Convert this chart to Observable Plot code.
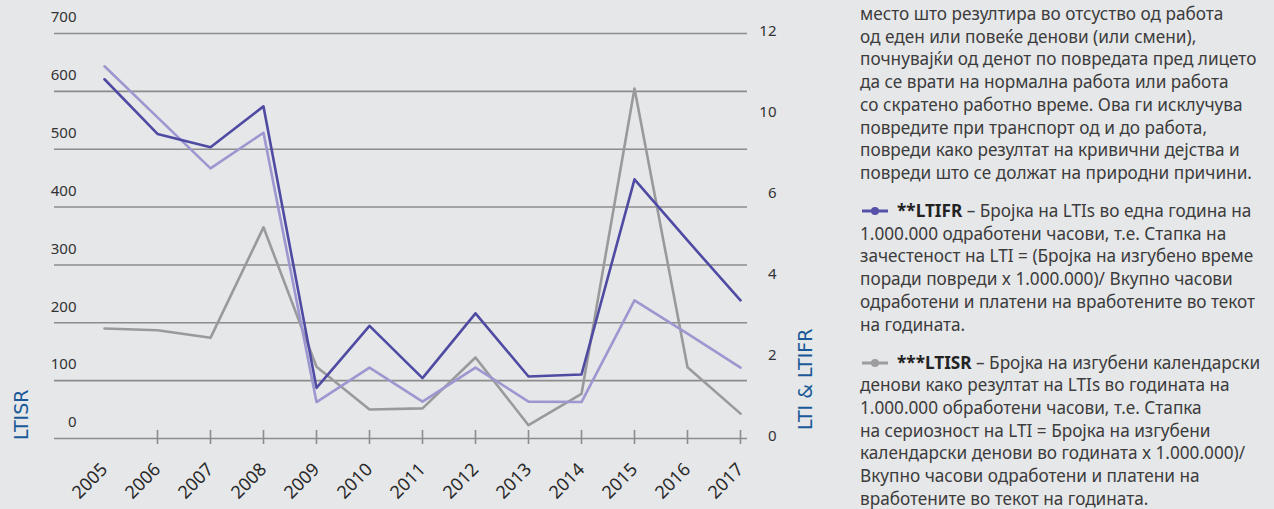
<!DOCTYPE html>
<html>
<head>
<meta charset="utf-8">
<script src="https://cdn.jsdelivr.net/npm/d3@7"></script>
<script src="https://cdn.jsdelivr.net/npm/@observablehq/plot@0.6"></script>
<style>
  html, body { margin: 0; padding: 0; background: #e6e7e9; }
  #wrap { position: relative; width: 1274px; height: 509px; overflow: hidden; background: #e6e7e9; }
  #chart { position: absolute; left: 0; top: 0; }
  #notes { position: absolute; left: 860px; top: 3px; font-family: "Noto Sans", sans-serif; font-size: 17.2px;
           line-height: 22.7px; color: #3c3c3c; white-space: nowrap; }
  #notes p { margin: 0 0 15.4px 0; }
  #notes b { color: #222; }
  .mk { display: inline-block; vertical-align: middle; margin: -3px 9px 0 2px; }
  .ttl { position: absolute; font-family: "DejaVu Sans", sans-serif; font-size: 19px; line-height: 19px; color: #1b5a98;
         white-space: nowrap; transform-origin: 0 0; transform: rotate(-90deg); }
</style>
</head>
<body>
<div id="wrap">
  <div id="chart"></div>
  <div class="ttl" style="left:11.5px; top:440px;">LTISR</div>
  <div class="ttl" style="left:796px; top:430px;">LTI &amp; LTIFR</div>
  <div id="notes">
    <p>место што резултира во отсуство од работа<br>од еден или повеќе денови (или смени),<br>почнувајќи од денот по повредата пред лицето<br>да се врати на нормална работа или работа<br>со скратено работно време. Ова ги исклучува<br>повредите при транспорт од и до работа,<br>повреди како резултат на кривични дејства и<br>повреди што се должат на природни причини.</p>
    <p><svg class="mk" width="26" height="10"><line x1="0" y1="5" x2="26" y2="5" stroke="#5650a8" stroke-width="3"/><circle cx="13" cy="5" r="4" fill="#5650a8"/></svg><b>**LTIFR</b> – Бројка на LTIs во една година на<br>1.000.000 одработени часови, т.е. Стапка на<br>зачестеност на LTI = (Бројка на изгубено време<br>поради повреди x 1.000.000)/ Вкупно часови<br>одработени и платени на вработените во текот<br>на годината.</p>
    <p><svg class="mk" width="26" height="10"><line x1="0" y1="5" x2="26" y2="5" stroke="#9d9d9f" stroke-width="3"/><circle cx="13" cy="5" r="4" fill="#9d9d9f"/></svg><b>***LTISR</b> – Бројка на изгубени календарски<br>денови како резултат на LTIs во годината на<br>1.000.000 обработени часови, т.е. Стапка<br>на сериозност на LTI = Бројка на изгубени<br>календарски денови во годината x 1.000.000)/<br>Вкупно часови одработени и платени на<br>вработените во текот на годината.</p>
  </div>
</div>
<script>
// ---- data ----
const years  = [2005, 2006, 2007, 2008, 2009, 2010, 2011, 2012, 2013, 2014, 2015, 2016, 2017];
const lti    = [9.19, 7.93, 6.67, 7.55, 0.90, 1.75, 0.91, 1.75, 0.91, 0.90, 3.41, 2.59, 1.75];
const ltifr  = [8.87, 7.52, 7.19, 8.20, 1.25, 2.78, 1.49, 3.09, 1.53, 1.58, 6.40, 4.89, 3.41];
const ltisr  = [190, 187, 174, 365, 124, 50, 52, 140, 23, 77, 605, 123, 43];
const leftTicks = [0, 100, 200, 300, 400, 500, 600, 700];
const rightTicks = [0, 2, 4, 6, 8, 10];
const rightTickLabels = ["0", "2", "4", "6", "10", "12"];
const tickYears = years.slice(1);
const rightToLeft = 70; // right axis value 10 sits on the 700 line of the left axis

const rows = years.map((year, i) => ({
  year, lti: lti[i] * rightToLeft, ltifr: ltifr[i] * rightToLeft, ltisr: ltisr[i]
}));

const plot = Plot.plot({
  width: 830, height: 509,
  marginLeft: 54, marginRight: 83, marginTop: 33, marginBottom: 71,
  style: { background: "transparent", fontFamily: "Noto Sans, sans-serif", overflow: "visible" },
  x: { type: "point", domain: years, padding: 0, insetLeft: 46, insetRight: 3, axis: null, label: null },
  y: { domain: [0, 700], axis: null },
  marks: [
    Plot.ruleY(leftTicks, { y: d => d, stroke: "#8c8c8c", strokeWidth: 1.6 }),
    Plot.axisX(tickYears, { tickSize: 14, dy: -8, tickFormat: () => "", label: null, stroke: "#8c8c8c", strokeWidth: 1.6 }),
    Plot.axisX(years, { tickSize: 0, tickPadding: 28, tickRotate: -45, tickFormat: d => String(d), label: null,
                        fontSize: 18, fill: "#2a2a2a" }),
    Plot.text(leftTicks, { y: d => d, text: d => String(d), frameAnchor: "left", dx: 22, dy: -16,
                           textAnchor: "end", fontSize: 15, fill: "#333" }),
    Plot.text(rightTicks, { y: d => d * rightToLeft, text: (d, i) => rightTickLabels[i], frameAnchor: "right",
                            dx: 29, dy: -2, textAnchor: "end", fontSize: 15, fill: "#333" }),
    Plot.line(rows, { x: "year", y: "ltisr", stroke: "#9a9a9c", strokeWidth: 2.6 }),
    Plot.line(rows, { x: "year", y: "lti", stroke: "#9d97d0", strokeWidth: 2.6 }),
    Plot.line(rows, { x: "year", y: "ltifr", stroke: "#4f4aa2", strokeWidth: 2.6 })
  ]
});
document.getElementById("chart").appendChild(plot);
</script>
</body>
</html>
